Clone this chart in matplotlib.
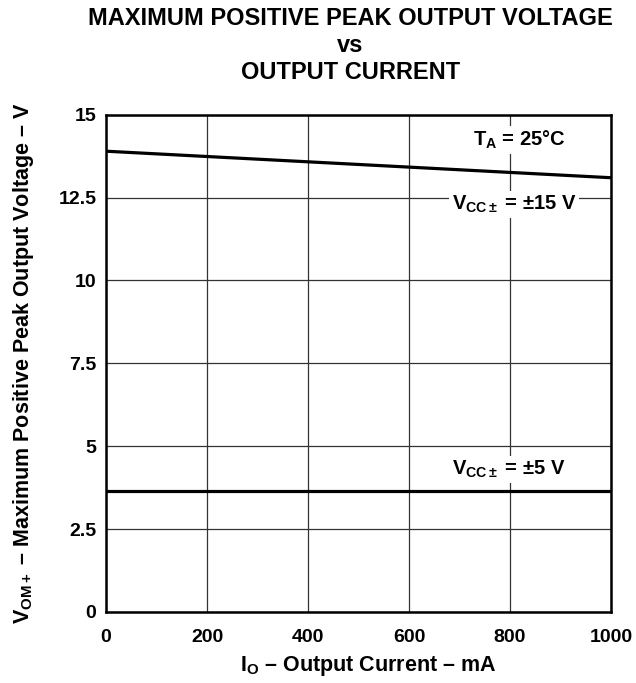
import matplotlib.pyplot as plt
import numpy as np

plt.rcParams['font.family'] = ['Liberation Sans', 'DejaVu Sans']
plt.rcParams['font.weight'] = 'bold'
plt.rcParams['axes.labelweight'] = 'bold'
plt.rcParams['mathtext.fontset'] = 'custom'
plt.rcParams['mathtext.rm'] = 'Liberation Sans:bold'
plt.rcParams['mathtext.it'] = 'Liberation Sans:bold'
plt.rcParams['mathtext.bf'] = 'Liberation Sans:bold'

# output current (mA) and max positive peak output voltage (V)
current = [0, 1000]
vom_15v = [13.9, 13.1]
vom_5v = [3.65, 3.65]

x_ticks = [0, 200, 400, 600, 800, 1000]
y_ticks = [0, 2.5, 5, 7.5, 10, 12.5, 15]
y_labels = ['0', '2.5', '5', '7.5', '10', '12.5', '15']

fig = plt.figure(figsize=(6.36, 6.83), dpi=100)
ax = fig.add_axes([0.1667, 0.104, 0.794, 0.728])

ax.plot(current, vom_15v, color='black', lw=2.3, zorder=3)
ax.plot(current, vom_5v, color='black', lw=2.3, zorder=3)

ax.set_xlim(0, 1000)
ax.set_ylim(0, 15)
ax.set_xticks(x_ticks)
ax.set_yticks(y_ticks)
ax.set_yticklabels(y_labels)
ax.tick_params(length=0, labelsize=14)
ax.tick_params(axis='x', pad=12)
ax.tick_params(axis='y', pad=7)
ax.grid(True, color='#333333', lw=0.9)
for s in ax.spines.values():
    s.set_linewidth(1.8)

box = dict(facecolor='white', edgecolor='none', pad=2)
ax.text(818, 14.25, r'T$_\mathregular{A}$ = 25°C', ha='center', va='center',
        fontsize=14.5, bbox=box, zorder=4)
ax.text(808, 12.3, r'V$_\mathregular{CC\pm}$ = ±15 V', ha='center', va='center',
        fontsize=14.5, bbox=box, zorder=4)
ax.text(798, 4.3, r'V$_\mathregular{CC\pm}$ = ±5 V', ha='center', va='center',
        fontsize=14.5, bbox=box, zorder=4)

ax.set_xlabel(r'I$_\mathregular{O}$ – Output Current – mA', fontsize=15.5, labelpad=7)
ax.xaxis.set_label_coords(0.52, -0.085)
ax.set_ylabel(r'V$_\mathregular{OM+}$ – Maximum Positive Peak Output Voltage – V',
              fontsize=15.5, labelpad=16)

fig.text(0.551, 0.973, 'MAXIMUM POSITIVE PEAK OUTPUT VOLTAGE', ha='center', va='center', fontsize=17)
fig.text(0.551, 0.934, 'vs', ha='center', va='center', fontsize=17)
fig.text(0.551, 0.894, 'OUTPUT CURRENT', ha='center', va='center', fontsize=17)

fig.savefig('out.png', dpi=100)
